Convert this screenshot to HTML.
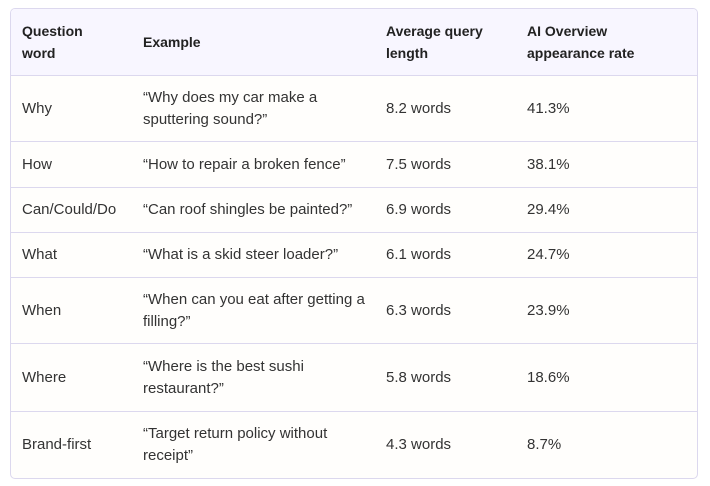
<!DOCTYPE html>
<html><head><meta charset="utf-8"><style>
body{margin:0;width:710px;height:486px;background:#fff;font-family:"Liberation Sans",sans-serif;color:#333;font-size:15px;position:relative;overflow:hidden}
.box{position:absolute;left:10px;top:8px;width:686px;height:469px;border:1px solid #dcd8ee;border-radius:5px;overflow:hidden;background:#fffefc}
.row{position:absolute;left:0;width:686px;border-bottom:1px solid #dcd8ee}
.hdr{background:#f8f6ff;font-weight:bold;color:#222;font-size:14px}
.c{position:absolute;top:50%;transform:translateY(-50%);line-height:22px;white-space:nowrap}
.c1{left:11px}.c2{left:132px}.c3{left:375px}.c4{left:516px}
</style></head><body><div class="box">
<div class="row hdr" style="top:0;height:66px"><div class="c c1">Question<br>word</div><div class="c c2">Example</div><div class="c c3">Average query<br>length</div><div class="c c4">AI Overview<br>appearance rate</div></div>
<div class="row" style="top:67px;height:65px"><div class="c c1">Why</div><div class="c c2">“Why does my car make a<br>sputtering sound?”</div><div class="c c3">8.2 words</div><div class="c c4">41.3%</div></div>
<div class="row" style="top:133px;height:45px"><div class="c c1">How</div><div class="c c2">“How to repair a broken fence”</div><div class="c c3">7.5 words</div><div class="c c4">38.1%</div></div>
<div class="row" style="top:179px;height:44px"><div class="c c1">Can/Could/Do</div><div class="c c2">“Can roof shingles be painted?”</div><div class="c c3">6.9 words</div><div class="c c4">29.4%</div></div>
<div class="row" style="top:224px;height:44px"><div class="c c1">What</div><div class="c c2">“What is a skid steer loader?”</div><div class="c c3">6.1 words</div><div class="c c4">24.7%</div></div>
<div class="row" style="top:269px;height:65px"><div class="c c1">When</div><div class="c c2">“When can you eat after getting a<br>filling?”</div><div class="c c3">6.3 words</div><div class="c c4">23.9%</div></div>
<div class="row" style="top:335px;height:67px"><div class="c c1">Where</div><div class="c c2">“Where is the best sushi<br>restaurant?”</div><div class="c c3">5.8 words</div><div class="c c4">18.6%</div></div>
<div class="row" style="top:403px;height:66px;border-bottom:none"><div class="c c1">Brand-first</div><div class="c c2">“Target return policy without<br>receipt”</div><div class="c c3">4.3 words</div><div class="c c4">8.7%</div></div>
</div></body></html>
